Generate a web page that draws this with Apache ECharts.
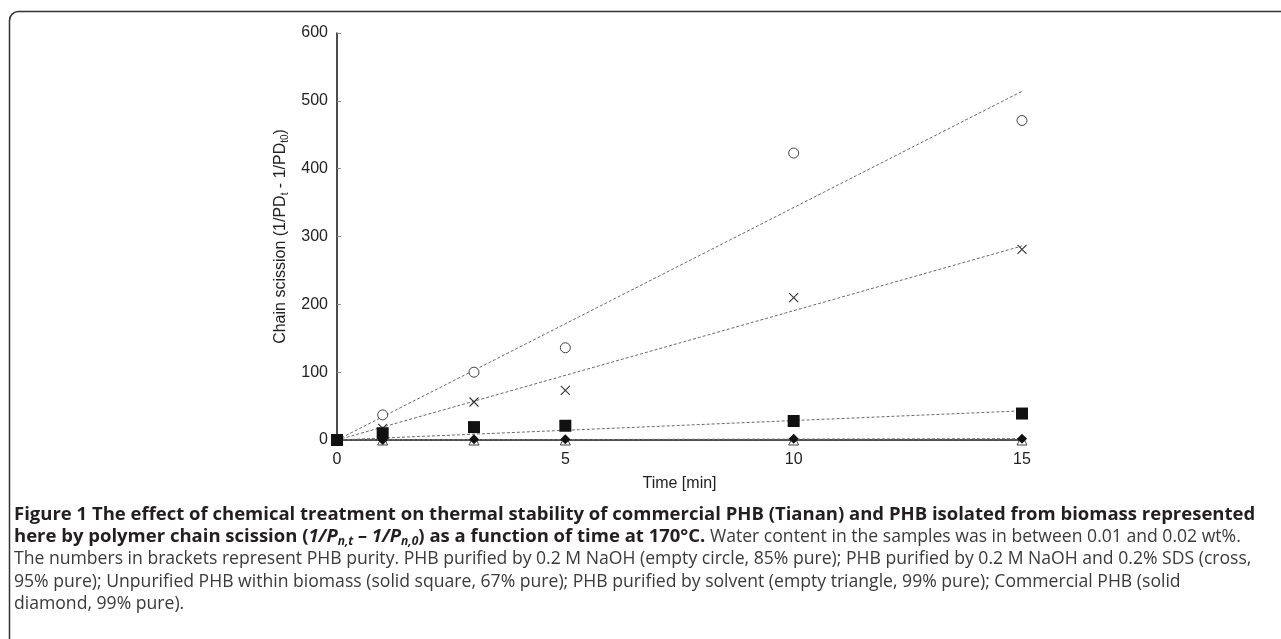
<!DOCTYPE html>
<html>
<head>
<meta charset="utf-8">
<script src="https://cdn.jsdelivr.net/npm/echarts@6/dist/echarts.min.js"></script>
<style>
  html, body { margin: 0; padding: 0; background: #fff; }
  #chart { width: 1281px; height: 639px; }
</style>
</head>
<body>
<div id="chart"></div>
<script>
// time points (min)
const times = [0, 1, 3, 5, 10, 15];

// chain scission values
const naohCircle = [0, 37, 100, 136, 423, 471];
const naohSdsCross = [0, 17, 56, 73, 210, 281];
const biomassSquare = [0, 10, 19, 21, 28, 39];
const solventTriangle = [0, 0, 0, 0, 0, 0];
const commercialDiamond = [0, 0, 1, 1, 2, 2];

// trendline end values at t = 15 min (lines start at origin)
const trendNames = ["circle", "cross", "square", "triangle", "diamond"];
const trendEnds = [514, 286, 43, 0, 2];

const yTicks = [0, 100, 200, 300, 400, 500, 600];
const xTicks = [0, 5, 10, 15];

const chart = echarts.init(document.getElementById("chart"));

const pairs = (ys) => times.map((t, i) => [t, ys[i]]);

const CROSS = "path://M0,0 L10,10 M10,0 L0,10";

const trendSeries = trendEnds.map((end, i) => ({
  name: "trend-" + trendNames[i],
  type: "line",
  data: [[times[0], 0], [times[times.length - 1], end]],
  symbol: "none",
  silent: true,
  z: 1,
  lineStyle: { color: "#6a6a6a", width: 1, type: [3, 2] },
}));

const capBase = { fontFamily: "Open Sans", lineHeight: 22 };

const captionLines = [
  {
    y: 515,
    text: "{b|Figure 1 The effect of chemical treatment on thermal stability of commercial PHB (Tianan) and PHB isolated from biomass represented}",
  },
  {
    y: 537,
    text:
      "{b|here by polymer chain scission (}{bi|1/P}{sub|n,t}{bi| – 1/P}{sub|n,0}{b|) as a function of time at 170°C.}{r| Water content in the samples was in between 0.01 and 0.02 wt%.}",
  },
  {
    y: 559,
    text: "{r|The numbers in brackets represent PHB purity. PHB purified by 0.2 M NaOH (empty circle, 85% pure); PHB purified by 0.2 M NaOH and 0.2% SDS (cross,}",
  },
  {
    y: 582,
    text: "{r|95% pure); Unpurified PHB within biomass (solid square, 67% pure); PHB purified by solvent (empty triangle, 99% pure); Commercial PHB (solid}",
  },
  { y: 604, text: "{r|diamond, 99% pure).}" },
];

const axisFont = { color: "#222", fontSize: 16, fontFamily: "Liberation Sans" };

const option = {
  animation: false,
  backgroundColor: "#fff",
  textStyle: { fontFamily: "Liberation Sans" },
  grid: { left: 337, top: 33, width: 685, height: 407, containLabel: false },
  xAxis: {
    type: "value",
    min: 0,
    max: 15,
    interval: 5,
    name: "Time [min]",
    nameLocation: "middle",
    nameGap: 36,
    nameTextStyle: axisFont,
    axisLine: { lineStyle: { color: "#111", width: 1.5 } },
    axisTick: { show: false },
    splitLine: { show: false },
    axisLabel: Object.assign({}, axisFont, {
      margin: 12,
      formatter: (v) => (xTicks.includes(v) ? String(v) : ""),
    }),
  },
  yAxis: {
    type: "value",
    min: 0,
    max: 600,
    interval: 100,
    name: "{n|Chain scission (1/PD}{s|t}{n| - 1/PD}{s|t0}{n|)}",
    nameLocation: "middle",
    nameGap: 46,
    nameRotate: 90,
    nameTextStyle: {
      rich: {
        n: Object.assign({}, axisFont, { lineHeight: 20, verticalAlign: "middle" }),
        s: Object.assign({}, axisFont, { fontSize: 10, lineHeight: 20, verticalAlign: "bottom" }),
      },
    },
    axisLine: { show: true, lineStyle: { color: "#111", width: 1.5 } },
    axisTick: { show: true, inside: true, length: 4, lineStyle: { color: "#888" } },
    splitLine: { show: false },
    axisLabel: Object.assign({}, axisFont, {
      margin: 9,
      formatter: (v) => (yTicks.includes(v) ? String(v) : ""),
    }),
  },
  series: [
    ...trendSeries,
    {
      name: "NaOH (empty circle)",
      type: "scatter",
      data: pairs(naohCircle),
      symbol: "circle",
      symbolSize: 10,
      z: 3,
      itemStyle: { color: "#fff", borderColor: "#444", borderWidth: 1, opacity: 1 },
    },
    {
      name: "NaOH + SDS (cross)",
      type: "scatter",
      data: pairs(naohSdsCross),
      symbol: CROSS,
      symbolSize: 9,
      z: 3,
      itemStyle: { color: "none", borderColor: "#333", borderWidth: 1.1, opacity: 1 },
    },
    {
      name: "Solvent (empty triangle)",
      type: "scatter",
      data: pairs(solventTriangle),
      symbol: "triangle",
      symbolSize: 10,
      z: 3,
      itemStyle: { color: "#fff", borderColor: "#444", borderWidth: 1, opacity: 1 },
    },
    {
      name: "Commercial (solid diamond)",
      type: "scatter",
      data: pairs(commercialDiamond),
      symbol: "diamond",
      symbolSize: 10,
      z: 4,
      itemStyle: { color: "#111", opacity: 1 },
    },
    {
      name: "Biomass (solid square)",
      type: "scatter",
      data: pairs(biomassSquare),
      symbol: "rect",
      symbolSize: 12,
      z: 5,
      itemStyle: { color: "#111", opacity: 1 },
    },
  ],
  graphic: [
    {
      type: "rect",
      silent: true,
      shape: { x: 9.5, y: 11.5, width: 1400, height: 800, r: 9 },
      style: { fill: "none", stroke: "#333", lineWidth: 1.5 },
    },
    ...captionLines.map((ln) => ({
      type: "text",
      silent: true,
      x: 14,
      y: ln.y,
      style: {
        text: ln.text,
        verticalAlign: "middle",
        rich: {
          b: Object.assign({}, capBase, { fontWeight: "bold", fill: "#231f20", fontSize: 18.5 }),
          bi: Object.assign({}, capBase, { fontWeight: "bold", fontStyle: "italic", fill: "#231f20", fontSize: 18.5 }),
          sub: Object.assign({}, capBase, { fontWeight: "bold", fontStyle: "italic", fill: "#231f20", fontSize: 12, verticalAlign: "bottom" }),
          r: Object.assign({}, capBase, { fill: "#3a3a3a", fontSize: 17.6 }),
        },
      },
    })),
  ],
};

chart.setOption(option);
</script>
</body>
</html>
